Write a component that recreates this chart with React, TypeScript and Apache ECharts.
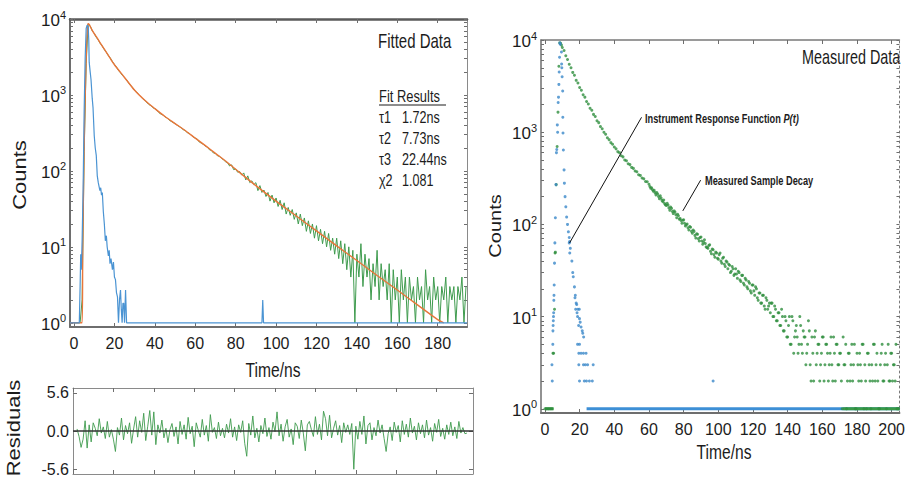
import React, { useEffect, useRef } from 'react';
import * as echarts from 'echarts';

const NARROW = "'Liberation Sans Narrow', 'Arial Narrow', 'Liberation Sans', Arial, sans-serif";
const SANS = "'Liberation Sans', Arial, sans-serif";
const TXT = '#1c1c1c';
const AX = '#6e6e6e';
const GREEN = '#3f9b4e';
const GREEN2 = '#2f8f3f';
const ORANGE = '#e8763a';
const BLUE = '#4b94d3';
const BLUE2 = '#3b88c9';

// ---------- tick labels ----------
const xTicksLeft = [0, 20, 40, 60, 80, 100, 120, 140, 160, 180];
const xTicksRes = [0, 20, 40, 60, 80, 100, 120, 140, 160, 180];
const xTicksRight = [0, 20, 40, 60, 80, 100, 120, 140, 160, 180, 200];
const yLogLabels = [1, 10, 100, 1000, 10000];
const resLabels = [-5.6, 0, 5.6];

// ---------- left panel: fitted data (counts per 1 ns channel, t = 0..194) ----------
const greenLeft = [
  1, 1, 1, 1, 2, 180, 2600, 8600, 8100, 7000,
  6450, 5750, 5300, 4750, 4400, 3950, 3650, 3300, 3050, 2750,
  2520, 2330, 2100, 1960, 1800, 1690, 1580, 1440, 1340, 1250,
  1140, 1090, 1010, 950, 890, 850, 800, 750, 725, 680,
  660, 630, 585, 560, 545, 515, 500, 470, 450, 435,
  420, 400, 385, 370, 350, 340, 320, 312, 295, 280,
  270, 262, 240, 232, 224, 212, 206, 190, 186, 172,
  170, 158, 156, 146, 140, 132, 128, 116, 120, 104,
  106, 96, 98, 88, 94, 76, 86, 70, 74, 66,
  70, 55, 64, 52, 56, 46, 52, 40, 48, 38,
  44, 34, 41, 31, 38, 27, 33, 26, 31, 23,
  28, 20, 27, 19, 24, 16, 22, 15, 20, 13,
  19, 12, 17, 11, 16, 10, 15, 9, 13, 8,
  13, 7, 12, 6, 11, 5, 10, 4, 9, 1,
  8, 4, 11, 3, 8, 4, 7, 2, 6, 3,
  9, 2, 6, 3, 5, 2, 6, 1, 5, 2,
  4, 1, 5, 2, 4, 1, 4, 2, 3, 1,
  4, 2, 3, 1, 5, 2, 3, 1, 4, 2,
  3, 1, 3, 2, 4, 1, 3, 2, 3, 1,
  3, 2, 4, 1, 3,
];

const fitLeft = [
  [-2, 1], [4.0, 1], [4.3, 10], [4.7, 60], [5.2, 400], [5.7, 1500], [6.2, 4500], [6.7, 8000],
  [7, 8700], [7.5, 8500], [8, 8000], [9, 7100], [10, 6400], [11.5, 5600], [13, 4800], [15, 4000],
  [18, 3000], [20, 2500], [25, 1700], [30, 1150], [35, 850], [40, 660], [45, 520], [50, 420],
  [55, 340], [60, 270], [65, 215], [70, 170], [75, 135], [80, 105], [90, 64], [100, 40],
  [110, 25.5], [120, 16.2], [130, 10.3], [140, 6.6], [150, 4.2], [160, 2.7], [170, 1.72],
  [180, 1.1], [183, 1],
];

const irfLeft = [
  [-2, 1], [2.6, 1], [3, 3], [3.3, 8], [3.6, 5], [4, 12], [4.5, 60], [5, 600], [5.5, 3000],
  [6, 7500], [6.5, 8300], [7, 8000], [7.3, 5200], [7.5, 2700], [8, 2000], [8.4, 1600], [9, 900],
  [9.4, 680], [10, 290], [10.5, 200], [11, 160], [11.5, 86], [12, 70], [12.4, 62], [12.8, 55],
  [13.2, 60], [13.6, 48], [14, 52], [14.5, 29], [15, 20], [15.5, 12], [16, 14], [16.4, 10],
  [17, 7.6], [17.4, 9], [17.8, 6], [18.3, 7], [19, 5], [19.5, 6.3], [20, 4], [20.5, 3.7],
  [21, 2.5], [21.5, 2.2], [22, 1], [22.5, 2], [23, 2.7], [23.4, 1.5], [23.8, 1], [24.2, 1.8],
  [24.6, 1.8], [25, 1], [25.5, 2.7], [26, 1], [93, 1], [93.4, 2], [93.8, 1], [194.5, 1],
];

// residuals, t = 2..195
const residuals = [
  0.3, -0.8, -2.4, -1.2, 1.5, -2.5, 0.9, -1.6, 1.2, 0.4,
  -0.7, 1.8, -0.3, 0.6, -1.1, 1.4, -0.9, 0.2, -1.2, -3.0,
  0.5, -0.6, 1.9, -1.3, 0.8, -0.4, 1.2, -1.8, 0.3, 2.1,
  -0.9, 1.5, -0.2, 2.6, -1.4, 0.7, 3.0, -0.6, 2.8, -2.0,
  0.9, -0.3, 1.6, -1.0, 0.4, -1.7, 0.2, 1.1, -0.8, 0.6,
  -1.9, 1.4, -0.5, 0.9, -1.2, 2.0, -0.4, 0.7, -2.3, 1.2,
  0.1, -0.9, 1.7, -0.6, 0.8, -1.5, 2.4, -0.2, 0.5, -1.1,
  1.3, -0.7, 0.4, -1.0, 1.0, -0.3, 1.8, -0.9, 0.6, -1.4,
  0.9, -0.2, 1.5, -1.8, -3.7, 1.1, -0.6, 2.2, -1.0, 0.4,
  -1.6, 0.8, -0.4, 1.9, -0.8, 0.5, -1.2, 1.3, -0.1, 2.8,
  -0.7, 1.0, -1.5, 0.6, 1.7, -0.9, 0.3, -2.0, 1.2, 0.7,
  -1.1, 1.6, -0.3, -2.9, 0.9, 1.4, 0.2, -0.8, 2.1, -0.5,
  1.0, -1.3, 2.9, 1.8, -0.7, 2.3, -1.0, 0.4, 1.5, -0.6,
  0.8, -1.7, 1.2, -0.2, 0.9, -0.5, 1.1, -5.6, 0.7, -1.2,
  1.4, -0.5, 2.2, -1.9, 0.8, 1.2, -1.3, 0.5, -0.7, 1.6,
  -0.3, 0.9, -1.1, -3.0, -0.4, 0.6, -1.4, 1.3, -0.2, 0.8,
  -1.6, 1.5, -0.5, 1.0, -0.9, 1.9, -0.3, 0.7, -1.3, 1.2,
  -0.4, 0.9, -1.0, 1.6, -0.6, 0.5, -1.5, 1.1, -0.2, 1.7,
  -0.8, 0.4, -1.2, 0.9, -0.5, 1.3, -0.7, 0.6, -1.1, 1.4,
  -0.3, 0.5, -0.4, -0.3,
];

// ---------- right panel: measured data ----------
// sample decay, t = 0..204 (1 ns)
const greenRight = [
  1, 1, 1, 1, 1, 4, 50, 700, 5200, 9200,
  8300, 7700, 6750, 6150, 5450, 5000, 4450, 4150, 3650, 3420,
  3050, 2850, 2550, 2400, 2150, 2020, 1820, 1730, 1560, 1480,
  1330, 1270, 1150, 1090, 1000, 950, 870, 830, 770, 740,
  690, 660, 615, 600, 555, 540, 500, 490, 455, 445,
  415, 405, 380, 372, 345, 340, 318, 312, 292, 290,
  272, 246, 238, 235, 209, 214, 190, 193, 176, 168,
  160, 162, 142, 149, 131, 136, 118, 124, 116, 103,
  112, 96, 101, 87, 93, 80, 84, 71, 78, 66,
  73, 61, 68, 57, 55, 60, 48, 53, 44, 49,
  42, 49, 38, 44, 35, 39, 37, 30, 35, 28,
  33, 26, 30, 24, 28, 22, 25, 20, 23, 18,
  22, 17, 20, 15, 18, 14, 17, 12, 15, 13,
  11, 14, 10, 12, 9, 11, 8, 10, 7, 9,
  6, 10, 5, 9, 6, 8, 4, 10, 5, 7,
  6, 4, 9, 3, 6, 2, 7, 4, 5, 3,
  6, 2, 5, 4, 3, 6, 2, 4, 5, 3,
  4, 2, 6, 3, 1, 4, 2, 5, 3, 1,
  4, 2, 3, 5, 1, 2, 4, 3, 1, 2,
  5, 3, 2, 1, 4, 2, 3, 1, 5, 2,
  4, 3, 2, 1, 1,
];
// extra half-channel samples, t = 60.5..203.5
const greenRightHalf = [
  258, 250, 229, 221, 222, 201, 204, 182, 184, 163,
  169, 151, 154, 138, 140, 127, 129, 114, 110, 111,
  103, 99, 92, 95, 84, 87, 76, 79, 70, 72,
  66, 64, 62, 56, 59, 51, 54, 47, 50, 43,
  47, 40, 43, 37, 40, 33, 36, 31, 33, 29,
  29, 31, 25, 28, 23, 26, 21, 24, 19, 22,
  19, 21, 16, 18, 14, 17, 13, 16, 12, 14,
  14, 10, 13, 9, 11, 8, 12, 7, 10, 6,
  8, 5, 10, 4, 7, 6, 5, 8, 4, 6,
  3, 5, 7, 2, 4, 6, 3, 5, 2, 4,
  6, 3, 5, 2, 4, 3, 6, 2, 5, 3,
  4, 1, 3, 5, 2, 4, 3, 2, 5, 1,
  3, 4, 2, 5, 3, 1, 4, 2, 3, 5,
  2, 4, 1, 3, 5, 2, 4, 3, 2, 4,
  2, 3, 5, 1,
];
const greenRightRise = [[4.6, 4], [5.5, 12], [5.8, 49], [6.5, 270], [7.5, 1650], [8.5, 9300], [9.5, 8800]];
const greenBaseStart = [[0, 1], [5, 1]];
const greenBaseEnd = [[172, 1], [204.5, 1]];

const irfRight = [
  [4.2, 2], [4, 3], [4.5, 5], [4.6, 7], [4.7, 8], [4.8, 9], [4.9, 10], [5.0, 11], [5.1, 15],
  [5.2, 17], [5.3, 22], [5.5, 38], [5.7, 63], [6, 118], [6.3, 270], [6.6, 600], [6.8, 650],
  [7.1, 1200], [7.3, 1000], [7.6, 2100], [7.8, 2400], [8, 3300], [8.2, 4500], [8.4, 6500],
  [8.6, 9300], [8.8, 9000], [9.5, 7400], [9.6, 5500], [9.7, 5000], [9.9, 4000], [10.2, 2800],
  [10.3, 1450], [10.4, 980], [10.6, 640], [11, 390], [11.2, 280], [11.6, 200], [12, 155],
  [12.5, 120], [13, 100], [13.5, 83], [14, 72], [14.2, 65], [14, 63], [14.6, 55], [14.3, 49],
  [15.5, 40], [16, 30], [16.3, 27], [17, 21], [17.5, 17], [17.3, 16], [18, 14], [18.3, 13.5],
  [17.7, 12], [19, 12], [19.8, 12], [18.5, 11], [18.8, 10], [19.9, 9.5], [20.3, 8.7],
  [19.4, 8], [20.8, 7.7], [21.5, 7], [21.8, 6.6], [22.3, 6], [18.8, 5], [19.9, 5],
  [19.5, 4], [20.8, 4], [22.2, 4], [23.7, 4], [19.5, 3], [22.2, 3], [23.3, 3], [24.6, 3],
  [27.8, 3], [19.9, 2], [22.7, 2], [23.9, 2], [25.6, 2], [27.3, 2], [97, 2],
];
const blueBaseRight = [[24, 1], [204.5, 1]];
const irfLeader = [[55.7, 1450], [14.2, 63]];
const decayLeader = [[89.8, 302], [79.5, 140]];

const fitNames = ['τ1', 'τ2', 'τ3', 'χ2'];
const fitValues = ['1.72ns', '7.73ns', '22.44ns', '1.081'];

// ---------- helpers ----------
const logTicks: number[] = [];
for (let d = 0; d < 4; d++) for (let m = 1; m < 10; m++) logTicks.push(m * Math.pow(10, d));
logTicks.push(10000);

const logFormatter = (v: number) => `{b|10}{s|${Math.round(Math.log10(v))}}`;
const logRich = {
  b: { fontSize: 17, fontFamily: NARROW, color: TXT, lineHeight: 20, verticalAlign: 'bottom' },
  s: { fontSize: 11, fontFamily: NARROW, color: TXT, lineHeight: 20, verticalAlign: 'top' },
};

function xAx(grid: number, pos: string, min: number, max: number, ticks: number[], line: any, labels: boolean) {
  return {
    gridIndex: grid, type: 'value', position: pos, min, max,
    axisLine: { show: true, onZero: false, lineStyle: line },
    axisTick: { show: true, inside: true, length: 4, customValues: ticks, lineStyle: { color: AX, width: 1 } },
    axisLabel: labels
      ? { show: true, customValues: ticks, fontFamily: NARROW, fontSize: 16, color: TXT, margin: 8 }
      : { show: false },
    splitLine: { show: false },
  };
}
function yLog(grid: number, pos: string, min: number, max: number, line: any, labels: boolean) {
  return {
    gridIndex: grid, type: 'log', logBase: 10, position: pos, min, max,
    axisLine: { show: true, onZero: false, lineStyle: line },
    axisTick: { show: true, inside: true, length: 3, customValues: logTicks, lineStyle: { color: AX, width: 1 } },
    axisLabel: labels
      ? { show: true, customValues: yLogLabels, formatter: logFormatter, rich: logRich, margin: 4 }
      : { show: false },
    splitLine: { show: false },
    minorTick: { show: false },
  };
}

function txt(x: number, y: number, text: string, size: number, extra: any = {}, styleExtra: any = {}) {
  return {
    type: 'text', x, y, silent: true, ...extra,
    style: {
      text, fill: TXT, fontSize: size, fontFamily: SANS,
      align: 'left', verticalAlign: 'middle', textAlign: 'left', textVerticalAlign: 'middle',
      ...styleExtra,
    },
  };
}

export default function App() {
  const ref = useRef<HTMLDivElement>(null);

  useEffect(() => {
    const chart = echarts.init(ref.current!, null, { renderer: 'svg' });

    const graphic: any[] = [
      txt(20, 175, 'Counts', 22, { rotation: Math.PI / 2, scaleY: 0.8 }, { align: 'center', textAlign: 'center' }),
      txt(273, 370, 'Time/ns', 20, { scaleX: 0.78 }, { align: 'center', textAlign: 'center' }),
      txt(14, 428, 'Residuals', 22, { rotation: Math.PI / 2, scaleY: 0.8 }, { align: 'center', textAlign: 'center' }),
      txt(378, 41, 'Fitted Data', 20, { scaleX: 0.75 }),
      txt(379, 96, 'Fit Results', 17, { scaleX: 0.76 }),
      { type: 'line', silent: true, shape: { x1: 379, y1: 105, x2: 446, y2: 105 }, style: { stroke: TXT, lineWidth: 1.2 } },
      txt(802, 57, 'Measured Data', 20, { scaleX: 0.72 }),
      {
        type: 'text', x: 645, y: 118, scaleX: 0.71, silent: true,
        style: {
          text: '{a|Instrument Response Function }{b|P(t)}',
          fill: TXT, verticalAlign: 'middle', textVerticalAlign: 'middle',
          rich: {
            a: { fontSize: 13, fontFamily: SANS, fontWeight: 'bold', fill: TXT, color: TXT },
            b: { fontSize: 13, fontFamily: SANS, fontWeight: 'bold', fontStyle: 'italic', fill: TXT, color: TXT },
          },
        },
      },
      txt(705, 180, 'Measured Sample Decay', 13, { scaleX: 0.71 }, { fontWeight: 'bold' }),
      txt(496, 226, 'Counts', 20, { rotation: Math.PI / 2, scaleY: 0.8 }, { align: 'center', textAlign: 'center' }),
      txt(724, 452, 'Time/ns', 20, { scaleX: 0.78 }, { align: 'center', textAlign: 'center' }),
    ];
    fitNames.forEach((n, i) => {
      graphic.push(txt(379, 117 + i * 21, n, 17, { scaleX: 0.74 }));
      graphic.push(txt(402, 117 + i * 21, fitValues[i], 17, { scaleX: 0.74 }));
    });

    const option: any = {
      animation: false,
      backgroundColor: '#ffffff',
      grid: [
        { left: 70, top: 19, width: 397, height: 308 },
        { left: 73, top: 388, width: 400, height: 86 },
        { left: 541, top: 40, width: 364, height: 373 },
      ],
      xAxis: [
        xAx(0, 'bottom', -2, 194.5, xTicksLeft, { color: AX, width: 2 }, true),
        xAx(0, 'top', -2, 194.5, xTicksLeft, { color: '#5a5a5a', width: 2.5 }, false),
        xAx(1, 'bottom', 0, 198, xTicksRes, { color: '#8a8a8a', width: 1 }, false),
        xAx(1, 'top', 0, 198, xTicksRes, { color: '#8a8a8a', width: 1 }, false),
        xAx(2, 'bottom', -2.3, 204.5, xTicksRight, { color: AX, width: 2 }, true),
        xAx(2, 'top', -2.3, 204.5, xTicksRight, { color: '#7a7a7a', width: 1.5 }, false),
      ],
      yAxis: [
        yLog(0, 'left', 0.88, 10000, { color: AX, width: 2 }, true),
        yLog(0, 'right', 0.88, 10000, { color: '#8a8a8a', width: 1 }, false),
        {
          gridIndex: 1, type: 'value', position: 'left', min: -6.3, max: 6.3,
          axisLine: { show: true, onZero: false, lineStyle: { color: '#8a8a8a', width: 1 } },
          axisTick: { show: true, inside: true, length: 4, customValues: resLabels, lineStyle: { color: AX } },
          axisLabel: {
            show: true, customValues: resLabels, formatter: (v: number) => v.toFixed(1),
            fontFamily: NARROW, fontSize: 16, color: TXT, margin: 4,
          },
          splitLine: { show: false },
        },
        {
          gridIndex: 1, type: 'value', position: 'right', min: -6.3, max: 6.3,
          axisLine: { show: true, onZero: false, lineStyle: { color: '#8a8a8a', width: 1 } },
          axisTick: { show: true, inside: true, length: 4, customValues: resLabels, lineStyle: { color: AX } },
          axisLabel: { show: false },
          splitLine: { show: false },
        },
        yLog(2, 'left', 0.9, 10000, { color: AX, width: 1.5 }, true),
        yLog(2, 'right', 0.9, 10000, { color: '#7a7a7a', width: 1, type: [2, 3] }, false),
      ],
      series: [
        {
          type: 'line', xAxisIndex: 0, yAxisIndex: 0, symbol: 'none', silent: true, z: 2,
          data: greenLeft.map((v, i) => [i, v]), lineStyle: { color: GREEN, width: 1 },
        },
        {
          type: 'line', xAxisIndex: 0, yAxisIndex: 0, symbol: 'none', silent: true, z: 3, smooth: 0.3,
          data: fitLeft, lineStyle: { color: ORANGE, width: 1.4 },
        },
        {
          type: 'line', xAxisIndex: 0, yAxisIndex: 0, symbol: 'none', silent: true, z: 4,
          data: irfLeft, lineStyle: { color: BLUE, width: 1.2 },
        },
        {
          type: 'line', xAxisIndex: 2, yAxisIndex: 2, symbol: 'none', silent: true, z: 3,
          data: residuals.map((v, i) => [i + 2, v]), lineStyle: { color: GREEN, width: 0.9 },
          markLine: {
            silent: true, symbol: 'none', label: { show: false },
            lineStyle: { color: '#333', width: 1.5, type: 'solid' },
            data: [{ yAxis: 0 }],
          },
        },
        {
          type: 'line', xAxisIndex: 4, yAxisIndex: 4, symbol: 'none', silent: true, z: 2,
          data: blueBaseRight, lineStyle: { color: '#3d8fd6', width: 3 },
        },
        {
          type: 'line', xAxisIndex: 4, yAxisIndex: 4, symbol: 'none', silent: true, z: 3,
          data: greenBaseStart, lineStyle: { color: '#3a9a48', width: 3 },
        },
        {
          type: 'line', xAxisIndex: 4, yAxisIndex: 4, symbol: 'none', silent: true, z: 3,
          data: greenBaseEnd, lineStyle: { color: '#3a9a48', width: 3 },
        },
        {
          type: 'scatter', xAxisIndex: 4, yAxisIndex: 4, silent: true, z: 4, symbolSize: 3,
          itemStyle: { color: GREEN2 },
          data: [
            ...greenRight.map((v, i) => [i, v]),
            ...greenRightHalf.map((v, i) => [60.5 + i, v]),
            ...greenRightRise,
          ],
        },
        {
          type: 'scatter', xAxisIndex: 4, yAxisIndex: 4, silent: true, z: 5, symbolSize: 3,
          itemStyle: { color: BLUE2 }, data: irfRight,
        },
        {
          type: 'line', xAxisIndex: 4, yAxisIndex: 4, symbol: 'none', silent: true, z: 6,
          data: irfLeader, lineStyle: { color: '#111', width: 1 },
        },
        {
          type: 'line', xAxisIndex: 4, yAxisIndex: 4, symbol: 'none', silent: true, z: 6,
          data: decayLeader, lineStyle: { color: '#111', width: 1 },
        },
      ],
      graphic,
    };

    chart.setOption(option);
    return () => chart.dispose();
  }, []);

  return (
    <div
      ref={ref}
      style={{ position: 'fixed', left: 0, top: 0, width: 908, height: 478, background: '#fff' }}
    />
  );
}
